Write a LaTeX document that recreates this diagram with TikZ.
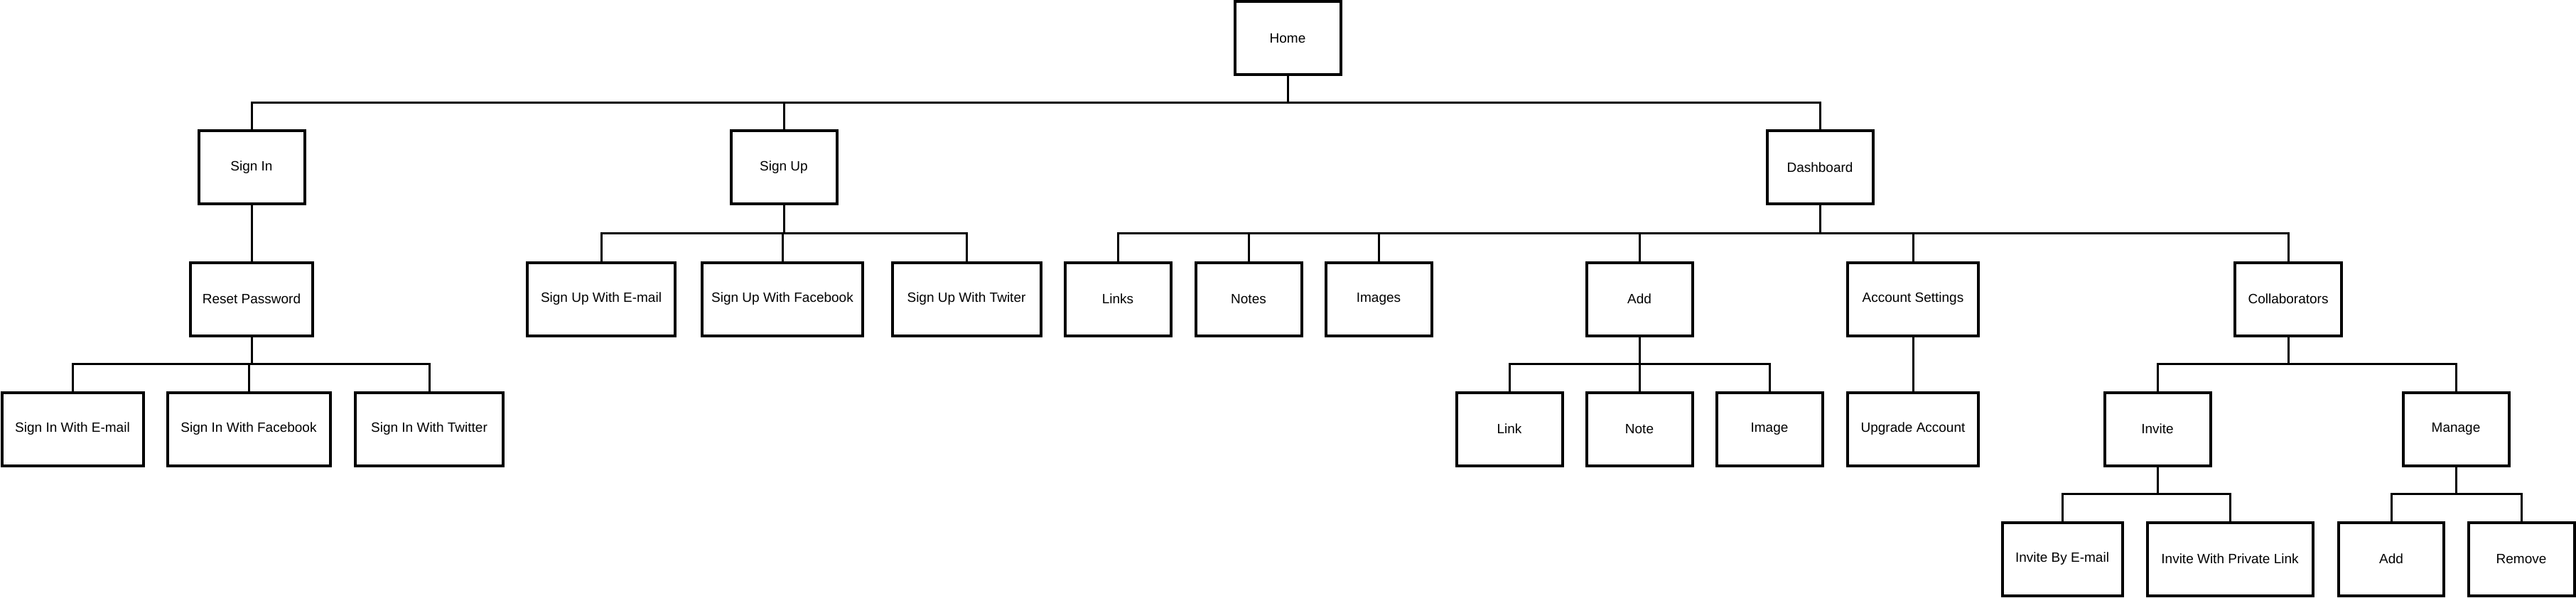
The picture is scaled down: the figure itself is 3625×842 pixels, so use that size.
\documentclass[tikz,border=0pt]{standalone}
\usepackage{fontspec}
\setmainfont{Liberation Sans}
\tikzset{
	page/.style={x=1pt, y=-1pt},
	box/.style={draw, line width=4pt, minimum height=103pt, minimum width=149pt, inner sep=0pt, font=\fontsize{19}{23}\selectfont},
	conn/.style={line width=3pt}
}

\begin{document}
\begin{tikzpicture}[page]
			%%%%% START %%%%%
			
			\useasboundingbox (0, 0) rectangle (3625, 842);
			
			% row 1
			\node[box] (home) at (1812, 54) {Home};
			
			% row 2
			\node[box] (signin) at (354, 236) {Sign In};
			\node[box] (signup) at (1103, 236) {Sign Up};
			\node[box] (dash) at (2561, 236) {Dashboard};
			
			% row 3
			\node[box, minimum width=172pt] (reset) at (354, 421) {Reset Password};
			\node[box, minimum width=208pt] (suemail) at (846, 421) {Sign Up With E-mail};
			\node[box, minimum width=226pt] (sufb) at (1101, 421) {Sign Up With Facebook};
			\node[box, minimum width=209pt] (sutw) at (1360, 421) {Sign Up With Twiter};
			\node[box] (links) at (1573, 421) {Links};
			\node[box] (notes) at (1757, 421) {Notes};
			\node[box] (images) at (1940, 421) {Images};
			\node[box] (add) at (2307, 421) {Add};
			\node[box, minimum width=184pt] (acct) at (2692, 421) {Account Settings};
			\node[box, minimum width=150pt] (collab) at (3220, 421) {Collaborators};
			
			% row 4
			\node[box, minimum width=199pt] (siemail) at (102, 604) {Sign In With E-mail};
			\node[box, minimum width=229pt] (sifb) at (350, 604) {Sign In With Facebook};
			\node[box, minimum width=208pt] (sitw) at (604, 604) {Sign In With Twitter};
			\node[box] (link) at (2124, 604) {Link};
			\node[box] (note) at (2307, 604) {Note};
			\node[box] (image) at (2490, 604) {Image};
			\node[box, minimum width=184pt] (upgrade) at (2692, 604) {Upgrade Account};
			\node[box] (invite) at (3036, 604) {Invite};
			\node[box] (manage) at (3456, 604) {Manage};
			
			% row 5
			\node[box, minimum width=169pt] (invemail) at (2902, 787) {Invite By E-mail};
			\node[box, minimum width=233pt] (invpriv) at (3138, 787) {Invite With Private Link};
			\node[box, minimum width=148pt] (madd) at (3365, 787) {Add};
			\node[box] (remove) at (3548, 787) {Remove};
			
			% home
			\draw[conn] (home) -- (home |- 0, 145) -| (signin);
			\draw[conn] (home |- 0, 145) -| (signup);
			\draw[conn] (home |- 0, 145) -| (dash);
			
			% sign in
			\draw[conn] (signin) -- (reset);
			\draw[conn] (reset) -- (reset |- 0, 512) -| (siemail);
			\draw[conn] (reset |- 0, 512) -| (sifb);
			\draw[conn] (reset |- 0, 512) -| (sitw);
			
			% sign up
			\draw[conn] (signup) -- (signup |- 0, 329) -| (suemail);
			\draw[conn] (signup |- 0, 329) -| (sufb);
			\draw[conn] (signup |- 0, 329) -| (sutw);
			
			% dashboard
			\draw[conn] (dash) -- (dash |- 0, 329) -| (links);
			\draw[conn] (dash |- 0, 329) -| (notes);
			\draw[conn] (dash |- 0, 329) -| (images);
			\draw[conn] (dash |- 0, 329) -| (add);
			\draw[conn] (dash |- 0, 329) -| (acct);
			\draw[conn] (dash |- 0, 329) -| (collab);
			
			\draw[conn] (add) -- (add |- 0, 512) -| (link);
			\draw[conn] (add |- 0, 512) -| (note);
			\draw[conn] (add |- 0, 512) -| (image);
			
			\draw[conn] (acct) -- (upgrade);
			
			\draw[conn] (collab) -- (collab |- 0, 512) -| (invite);
			\draw[conn] (collab |- 0, 512) -| (manage);
			
			\draw[conn] (invite) -- (invite |- 0, 695) -| (invemail);
			\draw[conn] (invite |- 0, 695) -| (invpriv);
			\draw[conn] (manage) -- (manage |- 0, 695) -| (madd);
			\draw[conn] (manage |- 0, 695) -| (remove);
			
			%%%%% END %%%%%
		\end{tikzpicture}
\end{document}
